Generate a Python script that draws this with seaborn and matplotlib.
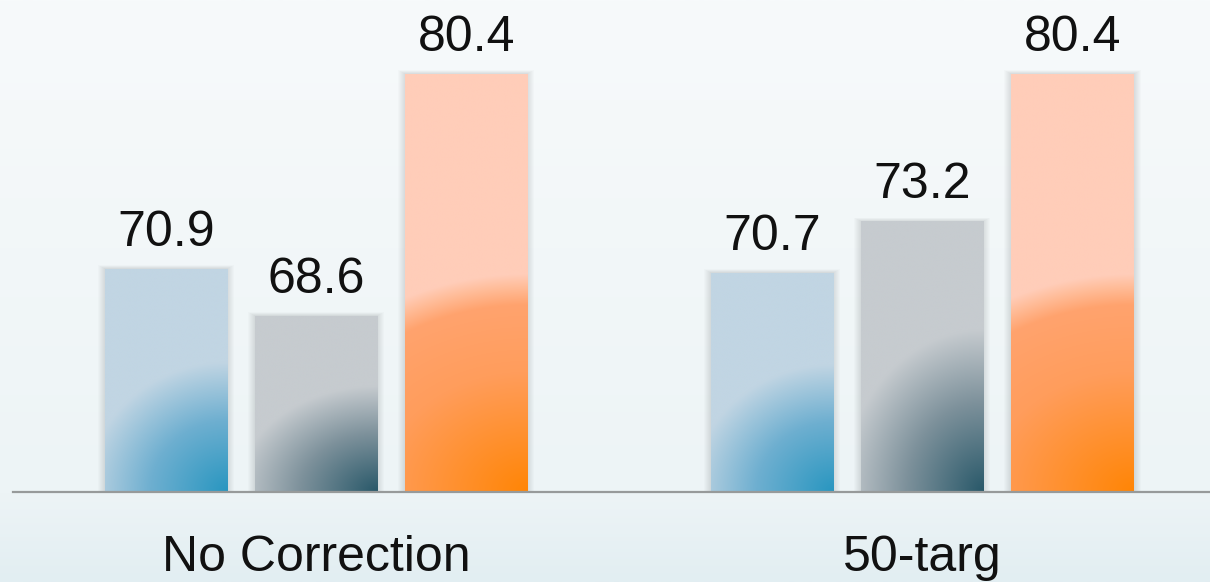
import numpy as np
import pandas as pd
import matplotlib
matplotlib.use("Agg")
import matplotlib.pyplot as plt
from matplotlib.patches import Rectangle
import seaborn as sns

# ---- data ----
categories = ["No Correction", "50-targ"]
series_names = ["Series 1", "Series 2", "Series 3"]
values_s1 = [70.9, 70.7]
values_s2 = [68.6, 73.2]
values_s3 = [80.4, 80.4]

# ---- style ----
base_colors = ["#c1d5e3", "#c6cbcf", "#ffcdb9"]
grad_specs = [
    (1.15, 0.58, [(0.0, (40, 150, 192)), (0.55, (110, 175, 208)), (1.0, (193, 213, 227))]),
    (1.15, 0.60, [(0.0, (40, 88, 105)), (0.55, (125, 145, 155)), (1.0, (198, 203, 207))]),
    (2.2, 0.52, [(0.0, (255, 133, 5)), (0.55, (255, 157, 92)), (0.86, (255, 163, 110)),
                 (0.94, (255, 188, 152)), (1.0, (255, 205, 185))]),
]

sns.set_theme(style="white")
plt.rcParams["font.family"] = ["Liberation Sans", "DejaVu Sans"]

df = pd.DataFrame({
    "condition": categories * 3,
    "score": values_s1 + values_s2 + values_s3,
    "series": [s for s in series_names for _ in categories],
})

W, H = 1210, 582
fig = plt.figure(figsize=(W / 100, H / 100), dpi=100)

# background gradient
bg = fig.add_axes([0, 0, 1, 1], zorder=-10)
t = np.linspace(0, 1, 256)[:, None]
top = np.array([247, 250, 251]) / 255
mid = np.array([237, 244, 246]) / 255
bot = np.array([226, 238, 242]) / 255
grad = np.where(t < 0.85, top + (mid - top) * (t / 0.85), mid + (bot - mid) * ((t - 0.85) / 0.15))
bg.imshow(grad.reshape(256, 1, 3), aspect="auto", extent=[0, 1, 0, 1])
bg.set_axis_off()

ax_left, ax_bottom = 13, 90
ax_w, ax_h = W - 13, 492
ax = fig.add_axes([ax_left / W, ax_bottom / H, ax_w / W, ax_h / H])
ax.patch.set_alpha(0)

sns.barplot(data=df, x="condition", y="score", hue="series", palette=base_colors,
            width=0.744, gap=0.187, saturation=1, legend=False, ax=ax, errorbar=None)

ymin, ymax = 60, 84.0
xlo, xhi = -0.5, 1.475
ax.set_ylim(ymin, ymax)
ax.set_xlim(xlo, xhi)
px_x = (xhi - xlo) / ax_w   # data units per pixel (x)
px_y = (ymax - ymin) / ax_h  # data units per pixel (y)


def interp_stops(d, stops):
    pos = np.array([s[0] for s in stops])
    cols = np.array([s[1] for s in stops], dtype=float) / 255
    out = np.zeros(d.shape + (3,))
    for c in range(3):
        out[..., c] = np.interp(d, pos, cols[:, c])
    return out


for i, cont in enumerate(ax.containers):
    a, b, stops = grad_specs[i]
    for bar in cont:
        bar.set_edgecolor("none")
        x0 = bar.get_x()
        w = bar.get_width()
        val = bar.get_height() + bar.get_y()
        z = bar.get_zorder()
        # soft shadow
        for k in range(1, 8):
            ax.add_patch(Rectangle((x0 - k * px_x, ymin), w + 2 * k * px_x,
                                   val - ymin + k * px_y * 0.5,
                                   facecolor=(0.3, 0.32, 0.33), edgecolor="none",
                                   alpha=0.022, zorder=z - 0.5))
        nx, ny = 200, 400
        xn = np.linspace(0, 1, nx)[None, :]
        yn = np.linspace(1, 0, ny)[:, None]
        u = 1 - xn
        v = yn
        d = np.clip(np.sqrt((u / a) ** 2 + (v / b) ** 2), 0, 1)
        img = interp_stops(d, stops)
        im = ax.imshow(img, extent=[x0, x0 + w, ymin, val], aspect="auto",
                       interpolation="bilinear", zorder=z + 0.1)
        im.set_clip_path(bar)
        ax.annotate(f"{val:.1f}", (x0 + w / 2, val), xytext=(0, 23),
                    textcoords="offset pixels", ha="center", va="baseline",
                    fontsize=36, color="#111111")

ax.set_xlim(xlo, xhi)
ax.set_ylim(ymin, ymax)
ax.set_yticks([])
ax.set_xlabel("")
ax.set_ylabel("")
for s in ["top", "right", "left"]:
    ax.spines[s].set_visible(False)
ax.spines["bottom"].set_color("#979a9a")
ax.spines["bottom"].set_linewidth(1.6)
ax.spines["bottom"].set_zorder(5)
ax.tick_params(axis="x", length=0, pad=31, labelsize=36, labelcolor="#111111")

fig.savefig("out.png", dpi=100)
